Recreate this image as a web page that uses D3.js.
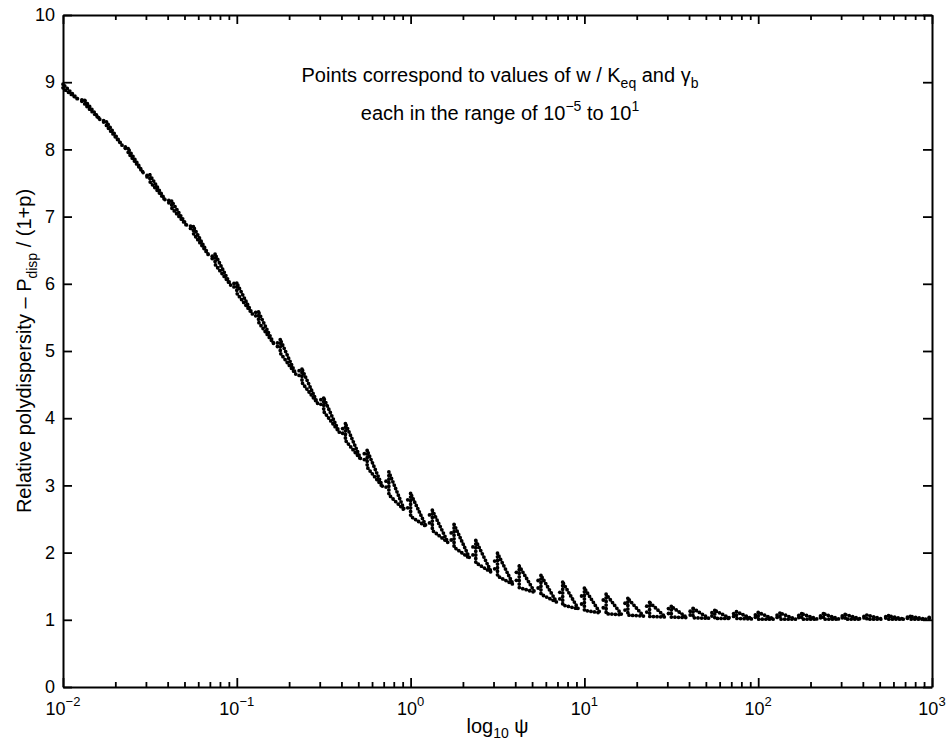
<!DOCTYPE html>
<html>
<head>
<meta charset="utf-8">
<script src="https://cdn.jsdelivr.net/npm/d3@7"></script>
<style>
  body { margin: 0; background: #fff; }
  svg { font-family: "Liberation Sans", Arial, sans-serif; }
</style>
</head>
<body>
<svg id="chart"></svg>
<script>
// clusters of points: left edge (log10 psi), top and bottom value
const psiLog = [-2, -1.875, -1.75, -1.625, -1.5, -1.375, -1.25, -1.125, -1, -0.875,
                -0.75, -0.625, -0.5, -0.375, -0.25, -0.125, 0, 0.125, 0.25, 0.375,
                0.5, 0.625, 0.75, 0.875, 1, 1.125, 1.25, 1.375, 1.5, 1.625,
                1.75, 1.875, 2, 2.125, 2.25, 2.375, 2.5, 2.625, 2.75, 2.875, 3];
const yHigh = [8.97, 8.73, 8.41, 8.01, 7.62, 7.23, 6.85, 6.44, 6.01, 5.58,
               5.17, 4.73, 4.30, 3.92, 3.52, 3.20, 2.88, 2.63, 2.42, 2.18,
               1.99, 1.80, 1.66, 1.56, 1.47, 1.38, 1.32, 1.26, 1.20, 1.17,
               1.14, 1.12, 1.11, 1.10, 1.09, 1.09, 1.08, 1.07, 1.06, 1.05, 1.04];
const yLow = [8.91, 8.67, 8.35, 7.95, 7.52, 7.13, 6.75, 6.29, 5.86, 5.43,
              4.97, 4.53, 4.10, 3.67, 3.27, 2.86, 2.54, 2.33, 2.08, 1.85,
              1.65, 1.48, 1.38, 1.22, 1.14, 1.09, 1.07, 1.05, 1.04, 1.03,
              1.02, 1.02, 1.01, 1.01, 1.01, 1.01, 1.01, 1.01, 1.01, 1.01, 1.01];

const yTicks = [0, 1, 2, 3, 4, 5, 6, 7, 8, 9, 10];
const xDecades = [-2, -1, 0, 1, 2, 3];
const xTickLabels = ["\u22122", "\u22121", "0", "1", "2", "3"];

let w = 947, h = 742;
let svg = d3.select("#chart")
    .attr("width", w)
    .attr("height", h);

let x = d3.scaleLog()
    .domain([1e-2, 1e3])
    .range([63, 932]);
let y = d3.scaleLinear()
    .domain([0, 10])
    .range([687, 15]);

let decadeVals = xDecades.map(e => Math.pow(10, e));
let minorVals = x.ticks().filter(v => !decadeVals.some(d => Math.abs(d - v) < 1e-9 * d));

function styleAxis(g) {
    g.select(".domain").attr("stroke", "#000").attr("stroke-width", 2);
    g.selectAll(".tick line").attr("stroke", "#000").attr("stroke-width", 1.8);
    g.selectAll(".tick text").attr("font-size", 18).attr("font-family", null).attr("fill", "#000");
}

// bottom and top axes
svg.append("g")
    .attr("transform", "translate(0,687)")
    .call(d3.axisBottom(x).tickValues(decadeVals).tickSize(-9).tickSizeOuter(0).tickFormat(""))
    .call(styleAxis);
svg.append("g")
    .attr("transform", "translate(0,687)")
    .call(d3.axisBottom(x).tickValues(minorVals).tickSize(-5).tickSizeOuter(0).tickFormat(""))
    .call(styleAxis)
    .call(g => g.select(".domain").remove());
svg.append("g")
    .attr("transform", "translate(0,15)")
    .call(d3.axisTop(x).tickValues(decadeVals).tickSize(-9).tickSizeOuter(0).tickFormat(""))
    .call(styleAxis);
svg.append("g")
    .attr("transform", "translate(0,15)")
    .call(d3.axisTop(x).tickValues(minorVals).tickSize(-5).tickSizeOuter(0).tickFormat(""))
    .call(styleAxis)
    .call(g => g.select(".domain").remove());

// left and right axes
svg.append("g")
    .attr("transform", "translate(63,0)")
    .call(d3.axisLeft(y).tickValues(yTicks).tickSize(-9).tickPadding(8).tickSizeOuter(0).tickFormat(d3.format("d")))
    .call(styleAxis);
svg.append("g")
    .attr("transform", "translate(932,0)")
    .call(d3.axisRight(y).tickValues(yTicks).tickSize(-9).tickSizeOuter(0).tickFormat(""))
    .call(styleAxis);

// x tick labels 10^n
let xl = svg.append("g").attr("font-size", 18);
xDecades.forEach((e, i) => {
    let t = xl.append("text")
        .attr("x", x(Math.pow(10, e)))
        .attr("y", 715)
        .attr("text-anchor", "middle");
    t.append("tspan").text("10");
    t.append("tspan").attr("dy", -9).attr("font-size", 13).text(xTickLabels[i]);
});

// points: every cluster is drawn as a dotted right triangle followed by a pair of dots
let line = d3.line()
    .x(d => x(Math.pow(10, d[0])))
    .y(d => y(d[1]));

let clusters = [];
let colons = [];
for (let i = 0; i < psiLog.length - 1; i++) {
    let dx = psiLog[i + 1] - psiLog[i];
    let xr = psiLog[i] + 0.72 * dx;
    let lr = yLow[i] + 0.72 * (yLow[i + 1] - yLow[i]);
    clusters.push([
        [psiLog[i], yHigh[i]],
        [psiLog[i], yLow[i]],
        [xr, lr],
        [psiLog[i], yHigh[i]]
    ]);
    let xc = psiLog[i] + 0.87 * dx;
    let lc = yLow[i] + 0.87 * (yLow[i + 1] - yLow[i]);
    let span = yHigh[i] - yLow[i];
    colons.push([xc, lc + 0.25 * span]);
    colons.push([xc, lc + 0.6 * span]);
}

let pts = svg.append("g")
    .attr("fill", "none")
    .attr("stroke", "#000")
    .attr("stroke-width", 3.8)
    .attr("stroke-linecap", "round")
    .attr("stroke-dasharray", "0,3.6");

pts.selectAll("path")
    .data(clusters)
    .enter()
    .append("path")
    .attr("d", line);

svg.append("g")
    .selectAll("circle")
    .data(colons)
    .enter()
    .append("circle")
    .attr("cx", d => x(Math.pow(10, d[0])))
    .attr("cy", d => y(d[1]))
    .attr("r", 1.9)
    .attr("fill", "#000");

// annotation
let n1 = svg.append("text")
    .attr("x", 500).attr("y", 82)
    .attr("text-anchor", "middle")
    .attr("font-size", 20);
n1.append("tspan").text("Points correspond to values of w / K");
n1.append("tspan").attr("dy", 6).attr("font-size", 14).text("eq");
n1.append("tspan").attr("dy", -6).text(" and \u03b3");
n1.append("tspan").attr("dy", 6).attr("font-size", 14).text("b");

let n2 = svg.append("text")
    .attr("x", 500).attr("y", 120)
    .attr("text-anchor", "middle")
    .attr("font-size", 20);
n2.append("tspan").text("each in the range of 10");
n2.append("tspan").attr("dy", -9).attr("font-size", 14).text("\u22125");
n2.append("tspan").attr("dy", 9).text(" to 10");
n2.append("tspan").attr("dy", -9).attr("font-size", 14).text("1");

// axis labels
let xt = svg.append("text")
    .attr("x", 497.5).attr("y", 733)
    .attr("text-anchor", "middle")
    .attr("font-size", 20);
xt.append("tspan").text("log");
xt.append("tspan").attr("dy", 5).attr("font-size", 14).text("10");
xt.append("tspan").attr("dy", -5).text(" \u03c8");

let yt = svg.append("text")
    .attr("transform", "translate(31,351) rotate(-90)")
    .attr("text-anchor", "middle")
    .attr("font-size", 20);
yt.append("tspan").text("Relative polydispersity \u2013 P");
yt.append("tspan").attr("dy", 6).attr("font-size", 14).text("disp");
yt.append("tspan").attr("dy", -6).text(" / (1+p)");
</script>
</body>
</html>
